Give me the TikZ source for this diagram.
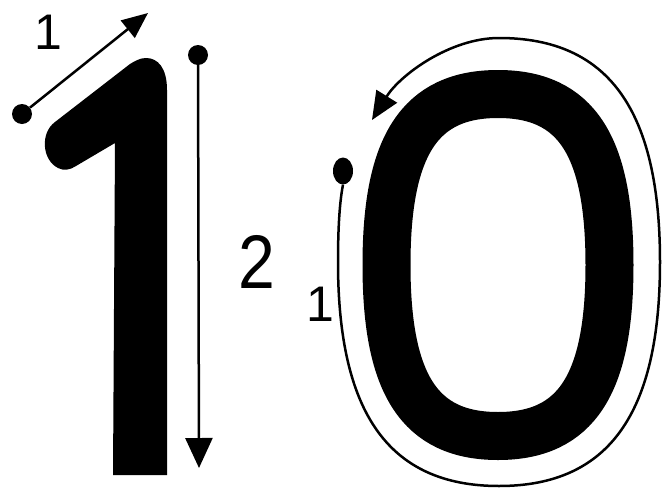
\documentclass[tikz,border=0pt]{standalone}
\usepackage{fontspec}
\setmainfont{Liberation Sans}
\usetikzlibrary{arrows.meta,shapes.geometric}
\begin{document}
\begin{tikzpicture}[x=1pt,y=-1pt,
  dot/.style={circle,fill=black,inner sep=0pt,minimum size=20pt},
  guide/.style={line width=2.5pt},
  lbl/.style={inner sep=0pt,font=\fontsize{50}{50}\selectfont},
  glyph/.style={fill=black}]
\useasboundingbox (0,0) rectangle (662,488);
% digit one
\fill[glyph] (113,475) -- (167,475) -- (167,90)
  .. controls (167,68) and (158,58) .. (146,58)
  .. controls (140,58) and (135,61) .. (130,64)
  -- (55,122) .. controls (40,133) and (42,160) .. (58,168)
  .. controls (64,171) and (70,170) .. (76,166) -- (115,143) -- cycle;
% digit zero
\draw[line width=48pt] (609.5,265) .. controls (609.5,145) and (576,94) .. (498,94)
  .. controls (420,94) and (386.5,145) .. (386.5,265)
  .. controls (386.5,385) and (420,436) .. (498,436)
  .. controls (576,436) and (609.5,385) .. (609.5,265) -- cycle;
% guide for stroke 1 of the one
\node[dot] (d1) at (22,114) {};
\coordinate (t1) at (148,13);
\draw[guide,-{Triangle[length=26pt,width=22pt]}] (d1) -- (t1);
\node[lbl] (n1) at (48,32) {1};
% guide for stroke 2 of the one
\node[dot] (d2) at (198,55) {};
\coordinate (t2) at (199,468);
\draw[guide,-{Triangle[length=30pt,width=27pt]}] (d2) -- (t2);
\node[lbl,font=\fontsize{76}{76}\selectfont] (n2) at (257,262) {\scalebox{0.87}[1]{2}};
% guide for the zero
\node[dot,ellipse,minimum width=20pt,minimum height=27pt] (d3) at (343,171) {};
\coordinate (t3) at (372,120);
\draw[guide,-{Triangle[length=28pt,width=24pt]}] (d3.south)
  .. controls (339,205) and (338,235) .. (338,262)
  .. controls (338,414) and (389.5,486) .. (499,486)
  .. controls (608.5,486) and (660,414) .. (660,262)
  .. controls (660,110) and (608.5,38) .. (499,38)
  .. controls (450,38) and (400,75) .. (t3);
\node[lbl] (n3) at (320,304) {1};
\end{tikzpicture}
\end{document}
